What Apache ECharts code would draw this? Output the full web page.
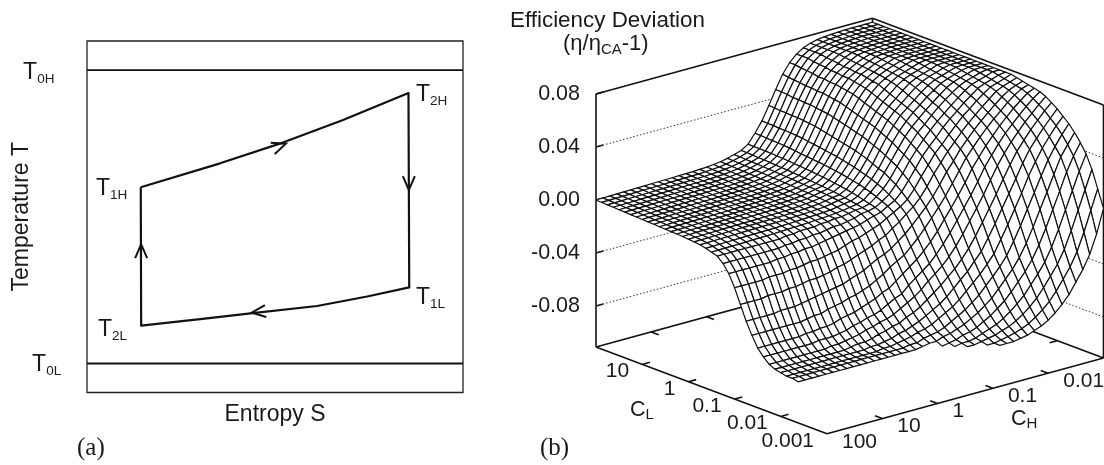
<!DOCTYPE html>
<html>
<head>
<meta charset="utf-8">
<style>html,body{margin:0;padding:0;background:#fff}#c{width:1104px;height:465px}</style>
<script src="https://cdn.jsdelivr.net/npm/echarts@6/dist/echarts.min.js"></script>
</head>
<body>
<div id="c"></div>
<script>
// ---- panel (a) : temperature-entropy cycle ----
const cycleS = [14.3, 35.4, 52.1, 68.1, 85.5, 85.7, 74.5, 61.2, 44.1, 30.1, 14.4, 14.3];
const cycleT = [58.4, 65.2, 71.1, 77.5, 85.2, 29.9, 27.3, 24.6, 22.6, 20.9, 19.0, 58.4];
const reservoirT = [91.7, 8.25];
const arrowS = [52.9, 85.6, 14.4, 43.8];
const arrowT = [70.8, 57.6, 42.2, 22.7];
const arrowDirX = [1, 0, 0, -1];
const arrowDirY = [-0.36, 1, -1, 0.12];
const stateNames = ['0H', '2H', '1H', '1L', '2L', '0L'];
const stateS = [-17, 87.5, 2.4, 87.5, 2.9, -14.6];
const stateT = [90.5, 84.1, 57.5, 26.3, 17.4, 7.3];

// ---- panel (b) : efficiency deviation surface ----
const zTicks = [-0.08, -0.04, 0, 0.04, 0.08];
const clTickLabels = ['10', '1', '0.1', '0.01', '0.001'];
const chTickLabels = ['100', '10', '1', '0.1', '0.01'];
const _ = null; // no visible mesh here
// deviation x 1000; row = CH step (100 -> 0.001), column = CL step (100 -> 0.001)
const zRows = [
[0,-.2,-.4,-.6,-.8,-1,-1.2,-1.4,-1.6,-1.8,-2,-2.2,-2.4,-2.6,-2.8,-3,-3.5,-3.8,-4.4,-5.4,-6.7,-8,-12,-18,-27,-38,-49,-58,-66,-71,-75,-77,-78,-79,-79,-80,_,_,_,_,_],
[.1,-.1,-.3,-.5,-.7,-.9,-1.1,-1.3,-1.5,-1.7,-1.9,-2.1,-2.3,-2.5,-2.7,-2.9,-3.4,-3.7,-4.3,-5.3,-6.6,-8,-12,-18,-27,-38,-49,-58,-66,-71,-75,-77,-78,-79,-79,-80,_,_,_,_,_],
[.2,0,-.2,-.4,-.6,-.8,-1,-1.2,-1.4,-1.6,-1.8,-2,-2.2,-2.4,-2.6,-2.8,-3.3,-3.6,-4.2,-5.2,-6.5,-8,-12,-18,-27,-38,-49,-58,-66,-71,-75,-77,-78,-79,-79,-80,_,_,_,_,_],
[.3,.1,-.1,-.3,-.5,-.7,-.9,-1.1,-1.3,-1.5,-1.7,-1.9,-2.1,-2.3,-2.5,-2.7,-3.2,-3.5,-4.1,-5.1,-6.4,-8,-12,-18,-27,-38,-49,-58,-66,-71,-75,-77,-78,-79,-79,-80,_,_,_,_,_],
[.4,.2,0,-.2,-.4,-.6,-.8,-1,-1.2,-1.4,-1.6,-1.8,-2,-2.2,-2.4,-2.6,-3.1,-3.4,-4,-5,-6.3,-8,-12,-18,-27,-37,-49,-58,-66,-71,-75,-77,-78,-79,-79,-80,_,_,_,_,_],
[.5,.3,.1,-.1,-.3,-.5,-.7,-.9,-1.1,-1.3,-1.5,-1.7,-1.9,-2.1,-2.3,-2.5,-3,-3.3,-3.9,-4.9,-6.2,-8,-12,-18,-26,-37,-48,-58,-66,-71,-75,-77,-78,-79,-79,-80,_,_,_,_,_],
[.6,.4,.2,0,-.2,-.4,-.6,-.8,-1,-1.2,-1.4,-1.6,-1.8,-2,-2.2,-2.4,-2.9,-3.2,-3.8,-4.8,-6,-8,-12,-18,-26,-37,-48,-58,-66,-71,-75,-77,-78,-79,-79,-80,_,_,_,_,_],
[.7,.5,.3,.1,-.1,-.3,-.5,-.7,-.9,-1.1,-1.3,-1.5,-1.7,-1.9,-2.1,-2.3,-2.8,-3.1,-3.7,-4.7,-5.9,-8,-12,-17,-26,-36,-48,-58,-65,-71,-75,-77,-78,-79,-79,-80,_,_,_,_,_],
[.8,.6,.4,.2,0,-.2,-.4,-.6,-.8,-1,-1.2,-1.4,-1.6,-1.8,-2,-2.2,-2.7,-3,-3.6,-4.6,-5.8,-8,-12,-17,-25,-36,-47,-57,-65,-70,-75,-77,-78,-79,-79,-80,_,_,_,_,_],
[.9,.7,.5,.3,.1,-.1,-.3,-.5,-.7,-.9,-1.1,-1.3,-1.5,-1.7,-1.9,-2.1,-2.6,-2.9,-3.5,-4.5,-5.6,-8,-11,-16,-25,-35,-46,-56,-64,-70,-74,-77,-78,-79,-79,-80,_,_,_,_,_],
[1,.8,.6,.4,.2,0,-.2,-.4,-.6,-.8,-1,-1.2,-1.4,-1.6,-1.8,-2,-2.5,-2.8,-3.4,-4.4,-5.4,-7,-11,-16,-24,-34,-45,-56,-64,-70,-74,-77,-78,-79,-79,-80,_,_,_,_,_],
[1.1,.9,.7,.5,.3,.1,-.1,-.3,-.5,-.7,-.9,-1.1,-1.3,-1.5,-1.7,-1.9,-2.4,-2.7,-3.3,-4.2,-5.2,-7,-10,-15,-23,-34,-44,-54,-63,-69,-73,-76,-78,-79,-79,-80,_,_,_,_,_],
[1.2,1,.8,.6,.4,.2,0,-.2,-.4,-.6,-.8,-1,-1.2,-1.4,-1.6,-1.8,-2.3,-2.6,-3.2,-4,-5,-6,-10,-15,-23,-33,-43,-53,-61,-68,-72,-75,-78,-79,-79,-80,_,_,_,_,_],
[1.3,1.1,.9,.7,.5,.3,.1,-.1,-.3,-.5,-.7,-.9,-1.1,-1.3,-1.5,-1.7,-2.2,-2.5,-3,-3.8,-4.8,-6,-9,-14,-22,-32,-42,-52,-60,-66,-71,-75,-77,-79,-79,-80,_,_,_,_,_],
[1.4,1.2,1,.8,.6,.4,.2,0,-.2,-.4,-.6,-.8,-1,-1.2,-1.4,-1.6,-2.1,-2.3,-2.8,-3.6,-4.5,-6,-9,-13,-21,-30,-41,-50,-59,-65,-69,-74,-77,-78,-79,-80,_,_,_,_,_],
[1.7,1.5,1.3,1.1,.9,.7,.5,.3,.1,-.1,-.3,-.5,-.7,-.9,-1.1,-1.3,-1.8,-2.1,-2.6,-3.3,-4.2,-5,-8,-12,-20,-29,-39,-49,-57,-63,-68,-72,-76,-78,-79,-80,_,_,_,_,_],
[2,1.8,1.6,1.4,1.2,1,.8,.6,.4,.2,0,-.2,-.4,-.6,-.8,-1,-1.6,-1.8,-2.3,-3,-3.9,-5,-7,-11,-18,-27,-37,-47,-55,-62,-66,-71,-75,-77,-79,-80,_,_,_,_,_],
[2.5,2.3,2.1,1.9,1.7,1.5,1.3,1.1,.9,.6,.4,.2,0,-.2,-.4,-.7,-1,-1.5,-2,-2.7,-3.5,-4,-7,-10,-16,-25,-35,-45,-53,-60,-65,-69,-73,-76,-78,-80,_,_,_,_,_],
[3.2,3,2.8,2.6,2.4,2.2,2,1.7,1.5,1.3,1,.8,.6,.3,.1,-.2,-.5,-.9,-1.6,-2.3,-3,-4,-6,-9,-15,-23,-32,-42,-50,-57,-63,-68,-72,-75,-78,-79,_,_,_,_,_],
[4.3,4.1,3.9,3.7,3.5,3.2,3,2.8,2.5,2.3,2,1.8,1.5,1.2,1,.7,.3,-.1,-.6,-1.5,-2.4,-3,-5,-8,-13,-21,-29,-39,-48,-54,-60,-65,-70,-73,-76,-78,_,_,_,_,_],
[5.7,5.5,5.3,5.1,4.9,4.7,4.4,4.2,3.9,3.7,3.4,3.1,2.8,2.5,2.2,1.9,1.5,1,.4,-.4,-1.5,-2,-3,-6,-11,-18,-27,-35,-44,-52,-57,-63,-68,-72,-75,-78,-80,_,_,_,_],
[7.4,7.3,7.1,6.8,6.7,6.4,6.1,5.8,5.6,5.2,4.9,4.5,4.2,3.7,3.3,2.8,2.4,1.7,1,.2,-.6,-1.5,-2.5,-4.5,-9,-16,-24,-32,-40,-47,-54,-60,-65,-70,-74,-76,-79,-80,_,_,_],
[10.7,10.5,10.5,10.4,10.2,10,9.7,9.4,9,8.7,8.3,8,7.5,7,6.4,5.8,5.1,4.4,3.5,2.5,1.2,0,-1,-3,-6,-12,-20,-29,-36,-43,-50,-56,-62,-67,-72,-75,-78,-79,-80,_,_],
[17.5,17.4,17,16.9,16.7,16.4,16.1,15.6,15,14.6,14.1,13.7,13.2,12.5,11.9,11.2,10.3,9.3,8.4,7.1,5.7,3.9,2,0,-3,-8.5,-16,-24,-32,-39,-45,-52,-59,-64,-69,-73,-76,-79,-80,_,_],
[25.4,25.1,25.1,24.7,24.7,24.4,24.1,23.7,23,22.4,21.7,21,20.3,19.7,18.6,17.6,16.6,15.3,13.9,12.5,10.5,8.5,5.8,2.9,0,-4,-11,-19,-27,-35,-41,-48,-55,-61,-66,-71,-75,-78,-79,-80,_],
[35.6,35.4,34.9,34.9,34.5,34.5,34,33.5,33,32,31,30,29,28,27,26,24.5,23,21,19,17.5,14.6,11.8,8,4,0,-5.5,-13,-21.5,-29.4,-36.5,-43,-50,-57,-63,-68,-73,-76,-78,-80,-80],
[46.3,46,45.7,45,45,44.5,44.5,43.8,43.2,42.6,41.4,40.2,39,37.8,36.5,35.3,33.5,31.7,29.8,27.4,25,22.5,18.9,15.2,10.4,5.3,0,-6.6,-15,-23,-31,-38.5,-45,-52,-59,-65,-70,-74,-77,-79,-80],
[56.3,55.6,55.2,54.8,54.1,54.1,53.4,53.4,52.6,51.9,51.2,49.7,48.2,46.8,45.3,43.9,42.4,40.2,38,35.8,32.9,30,27,22.7,18.3,12.4,6.4,0,-7.4,-16,-24.3,-32.7,-40.3,-47,-54.8,-61,-67,-72,-75,-78,-80],
[63.6,63.6,62.8,62.4,62,61.1,61.1,60.3,60.3,59.5,58.6,57.8,56.2,54.5,52.9,51.2,49.6,47.9,45.4,43,40.5,37.2,33.9,30.6,25.6,20.7,14,7.2,0,-8,-16.8,-26,-34,-42,-49,-57,-63,-69,-73.4,-76.6,-79],
[68.7,68.7,68.7,67.8,67.3,66.9,66,66,65.1,65.1,64.2,63.3,62.4,60.7,58.9,57.1,55.3,53.5,51.7,49,46.4,43.7,40.1,36.6,33,27.7,22.3,15.2,7.8,0,-8.4,-18,-28,-36,-43.7,-51.3,-58.8,-65.2,-70.6,-74.8,-78],
[72,72,72,72,71.1,70.6,70.1,69.2,69.2,68.3,68.3,67.3,66.4,65.5,63.6,61.7,59.8,58,56.1,54.2,51.4,48.6,45.8,42.1,38.3,34.6,29,23.4,15.9,8.1,0,-9.2,-19.2,-29.6,-37.7,-45.4,-53.4,-60.8,-67,-72.4,-76],
[74,74,74,74,74,73.7,73.1,72.5,72,71.4,70.8,70.2,69.6,68.9,67.7,66.4,64.5,62.5,60.6,58.5,56.2,53.9,51,48.1,44.3,40.4,36.6,31.7,25,16.9,8.7,0,-9.9,-20.2,-30.8,-39.4,-47.2,-56,-62.8,-69,-74],
[75.3,75.3,75.3,75.3,75.3,75.3,75.3,75.1,74.3,73.8,73.4,72.6,72,71.4,70.7,69.9,68.5,66.9,65,63.1,60.6,58.7,55.7,53.1,49.9,46.5,42.5,38.1,32.3,26.4,18.2,9.3,0,-10.4,-21.4,-32,-41,-49.2,-57.7,-64.9,-71],
[76,76,76,76,76,76,76,76,76,75.8,75.2,74.5,74,73.2,72.5,72,71.3,70.1,68.8,66.8,64.8,62.9,60.2,57.6,55.3,51.8,48.4,44.4,39.5,34,27.6,19.2,9.9,0,-11.1,-22.6,-33.4,-42.6,-51.2,-60,-67],
[76.4,76.4,76.4,76.4,76.4,76.4,76.4,76.4,76.4,76.4,76.4,76.4,75.8,75.1,74.4,73.7,73,72.4,71.6,70.4,68.8,66.8,64.5,62.3,59.5,56.5,53.6,50.1,45.6,41.2,35.7,28.8,19.8,10.4,0,-11.8,-23.8,-35,-44,-53.6,-62],
[76.7,76.7,76.7,76.7,76.7,76.7,76.7,76.7,76.7,76.7,76.7,76.7,76.7,76.7,76.2,75.5,74.7,74,73.3,72.5,71.8,70.4,68.6,66.3,64.1,61.4,58.4,55.4,51.8,47.8,42.8,37.4,30,21.9,11,0,-12.5,-25.2,-36.4,-46,-56],
[77,77,77,77,77,77,77,77,77,77,77,77,77,77,77,77,76.6,75.8,75,74.3,73.5,72.7,71.8,70.3,68,65.7,63,60,57,53.3,49,44.3,39,31.4,22.3,11.7,0,-13.3,-26.6,-38.2,-48],
[77,77,77,77,77,77,77,77,77,77,77,77,77,77,77,77,77,77,76.8,76,75.1,74.3,73.5,72.6,71.6,70,67.4,65,62,58.6,55,51,46,40.2,33,23.6,12.5,0,-14,-28.3,-40],
[77,77,77,77,77,77,77,77,77,77,77,77,77,77,77,77,77,77,77,77,76.8,76,75.1,74.2,73.3,72.4,71,69,66.4,63.7,60.2,56.6,52.4,47.4,41.6,35.5,25.6,13.2,0,-15,-30],
[77,77,77,77,77,77,77,77,77,77,77,77,77,77,77,77,77,77,77,77,77,77,77,76,75.1,74.2,73.2,72.3,70.6,68.2,65.4,62.2,58.3,54.2,49.2,43.3,36.2,26.4,14,0,-16],
[77,77,77,77,77,77,77,77,77,77,77,77,77,77,77,77,77,77,77,77,77,77,77,77,77,76,75,74,73,72,70,67,64,60,56,51,45,38,28,15,2]
];

// ---- view settings for the oblique projection of panel (b) ----
const INK = '#111';
const FONT = '"Liberation Sans", Arial, sans-serif';
const stepA = 46.2, dropA = 17.4;   // one CL decade on screen
const stepB = 55.3, riseB = 15.2;   // one CH decade on screen
const zScale = 1330;                // px per unit of deviation
const zFloor = -0.111, zTop = 0.08;
const decades = 5, steps = zRows.length - 1;

function proj(api, a, b, z) {
  return api.coord([a * stepA + b * stepB, z - (a * dropA - b * riseB) / zScale]);
}

const solid = [], dotted = [];
solid.push([0,0,zFloor, 5,0,zFloor], [5,0,zFloor, 5,5,zFloor], [0,0,zFloor, 0,5,zFloor], [0,5,zFloor, 5,5,zFloor]);
solid.push([0,0,zFloor, 0,0,zTop], [0,5,zFloor, 0,5,zTop], [5,5,zFloor, 5,5,zTop]);
solid.push([0,0,zTop, 0,5,zTop], [0,5,zTop, 5,5,zTop]);
[1,2,3,4].forEach(k => {
  solid.push([k,0,zFloor, k,0.14,zFloor], [5,k,zFloor, 4.84,k,zFloor], [0,k,zFloor, 0.16,k,zFloor], [k,5,zFloor, k,4.86,zFloor]);
});
zTicks.forEach(z => {
  solid.push([0,0,z, 0,0.13,z]);
  if (z < zTop) dotted.push([0,0,z, 0,5,z], [0,5,z, 5,5,z]);
});
function segItem(api, s, style) {
  const p = proj(api, s[0], s[1], s[2]), q = proj(api, s[3], s[4], s[5]);
  return { type: 'line', shape: { x1: p[0], y1: p[1], x2: q[0], y2: q[1] }, style: style };
}

// far cells first so that nearer cells hide them
const cells = [];
for (let j = steps - 1; j >= 0; j--) for (let i = 0; i < steps; i++) {
  if (zRows[j][i] !== null && zRows[j][i + 1] !== null && zRows[j + 1][i] !== null && zRows[j + 1][i + 1] !== null) cells.push([i, j]);
}

function renderCell(params, api) {
  const i = api.value(0), j = api.value(1), f = decades / steps;
  const pts = [[i, j], [i + 1, j], [i + 1, j + 1], [i, j + 1]].map(c =>
    proj(api, c[0] * f, c[1] * f, zRows[c[1]][c[0]] / 1000));
  return { type: 'polygon', z2: params.dataIndex, shape: { points: pts },
    style: { fill: '#fff', stroke: INK, lineWidth: 1.2, lineJoin: 'round' } };
}

const tickText = [];
clTickLabels.forEach((t, k) => tickText.push({ t, a: k + 1, b: 0, dx: -13, dy: 7, align: 'right' }));
chTickLabels.forEach((t, k) => tickText.push({ t, a: 5, b: k, dx: 15, dy: 8, align: 'left' }));

const cycleData = cycleS.map((s, k) => [s, cycleT[k]]);
const subRich = (big, small) => ({
  t: { fontFamily: FONT, fontSize: big, lineHeight: big, fill: '#1a1a1a', padding: [0, 0, 4, 0] },
  s: { fontFamily: FONT, fontSize: small, lineHeight: small, fill: '#1a1a1a', verticalAlign: 'bottom' }
});

const option = {
  backgroundColor: '#fff',
  animation: false,
  grid: [
    { left: 87, top: 41, width: 376, height: 351.5, show: true, borderColor: '#222', borderWidth: 1.3, backgroundColor: 'transparent', outerBoundsMode: 'none' },
    { left: 596, top: 14.5, width: 508, height: 424, show: false, outerBoundsMode: 'none' }
  ],
  xAxis: [
    { gridIndex: 0, type: 'value', min: 0, max: 100, name: 'Entropy S', nameLocation: 'middle', nameGap: 11,
      nameTextStyle: { fontFamily: FONT, fontSize: 23, color: '#1a1a1a' },
      axisLine: { show: false }, axisTick: { show: false }, axisLabel: { show: false }, splitLine: { show: false } },
    { gridIndex: 1, type: 'value', min: 0, max: 508, show: false }
  ],
  yAxis: [
    { gridIndex: 0, type: 'value', min: 0, max: 100, name: 'Temperature T', nameLocation: 'middle', nameGap: 54, nameRotate: 90,
      nameTextStyle: { fontFamily: FONT, fontSize: 23, color: '#1a1a1a' },
      axisLine: { show: false }, axisTick: { show: false }, axisLabel: { show: false }, splitLine: { show: false } },
    { gridIndex: 1, type: 'value', min: -0.18, max: 0.14,
      axisLine: { show: false }, axisTick: { show: false }, splitLine: { show: false },
      axisLabel: { show: true, customValues: zTicks, margin: 16, formatter: v => v.toFixed(2),
        fontFamily: FONT, fontSize: 21.5, color: '#1a1a1a' } }
  ],
  graphic: [
    { type: 'text', left: 77, top: 436, style: { text: '(a)', font: '25px "Liberation Serif", serif', fill: '#1a1a1a' } },
    { type: 'text', left: 540, top: 436, style: { text: '(b)', font: '25px "Liberation Serif", serif', fill: '#1a1a1a' } },
    { type: 'text', left: 510, top: 10, style: { text: 'Efficiency Deviation', font: '22.4px ' + FONT, fill: '#1a1a1a' } },
    { type: 'text', left: 563, top: 33, style: { text: '{t|(\u03b7/\u03b7}{s|CA}{t|-1)}', rich: subRich(22, 15) } },
    { type: 'text', left: 630, top: 399, style: { text: '{t|C}{s|L}', rich: subRich(21.5, 15) } },
    { type: 'text', left: 1011, top: 408, style: { text: '{t|C}{s|H}', rich: subRich(21.5, 15) } }
  ],
  series: [
    { type: 'line', xAxisIndex: 0, yAxisIndex: 0, data: cycleData, symbol: 'none', silent: true,
      lineStyle: { color: INK, width: 2.2, join: 'round' } },
    { type: 'line', xAxisIndex: 0, yAxisIndex: 0, data: [[0, reservoirT[0]], [100, reservoirT[0]]], symbol: 'none',
      lineStyle: { color: INK, width: 1.8 } },
    { type: 'line', xAxisIndex: 0, yAxisIndex: 0, data: [[0, reservoirT[1]], [100, reservoirT[1]]], symbol: 'none',
      lineStyle: { color: INK, width: 1.8 } },
    { type: 'custom', name: 'arrows', xAxisIndex: 0, yAxisIndex: 0, clip: false, silent: true,
      data: arrowS.map((s, k) => [s, arrowT[k], k]),
      renderItem: (params, api) => {
        const k = api.value(2), c = api.coord([api.value(0), api.value(1)]);
        const n = Math.hypot(arrowDirX[k], arrowDirY[k]), ux = arrowDirX[k] / n, uy = arrowDirY[k] / n;
        const L = 14, W = 6;
        return { type: 'polyline',
          shape: { points: [[c[0] - ux * L - uy * W, c[1] - uy * L + ux * W], c, [c[0] - ux * L + uy * W, c[1] - uy * L - ux * W]] },
          style: { fill: null, stroke: INK, lineWidth: 2 } };
      } },
    { type: 'custom', name: 'states', xAxisIndex: 0, yAxisIndex: 0, clip: false, silent: true,
      data: stateS.map((s, k) => [s, stateT[k], k]),
      renderItem: (params, api) => {
        const c = api.coord([api.value(0), api.value(1)]);
        return { type: 'text', style: { x: c[0], y: c[1], align: 'left', verticalAlign: 'middle',
          text: '{t|T}{s|' + stateNames[api.value(2)] + '}', rich: subRich(23, 13.5) } };
      } },
    { type: 'custom', name: 'frame', xAxisIndex: 1, yAxisIndex: 1, clip: false, silent: true, z: 2,
      data: solid.map((s, k) => [0, 0, k]),
      renderItem: (params, api) => segItem(api, solid[api.value(2)], { stroke: INK, lineWidth: 1.6 }) },
    { type: 'custom', name: 'walls', xAxisIndex: 1, yAxisIndex: 1, clip: false, silent: true, z: 2,
      data: dotted.map((s, k) => [0, 0, k]),
      renderItem: (params, api) => segItem(api, dotted[api.value(2)], { stroke: '#333', lineWidth: 1, lineDash: [1.5, 2] }) },
    { type: 'custom', name: 'surface', xAxisIndex: 1, yAxisIndex: 1, clip: false, silent: true, z: 3, progressive: 0,
      data: cells, renderItem: renderCell },
    { type: 'custom', name: 'tickLabels', xAxisIndex: 1, yAxisIndex: 1, clip: false, silent: true, z: 4,
      data: tickText.map((t, k) => [0, 0, k]),
      renderItem: (params, api) => {
        const t = tickText[api.value(2)], c = proj(api, t.a, t.b, zFloor);
        return { type: 'text', style: { x: c[0] + t.dx, y: c[1] + t.dy, align: t.align, verticalAlign: 'middle',
          text: t.t, font: '21px ' + FONT, fill: '#1a1a1a' } };
      } }
  ]
};
echarts.init(document.getElementById('c'), null, { renderer: 'canvas' }).setOption(option);
</script>
</body>
</html>
